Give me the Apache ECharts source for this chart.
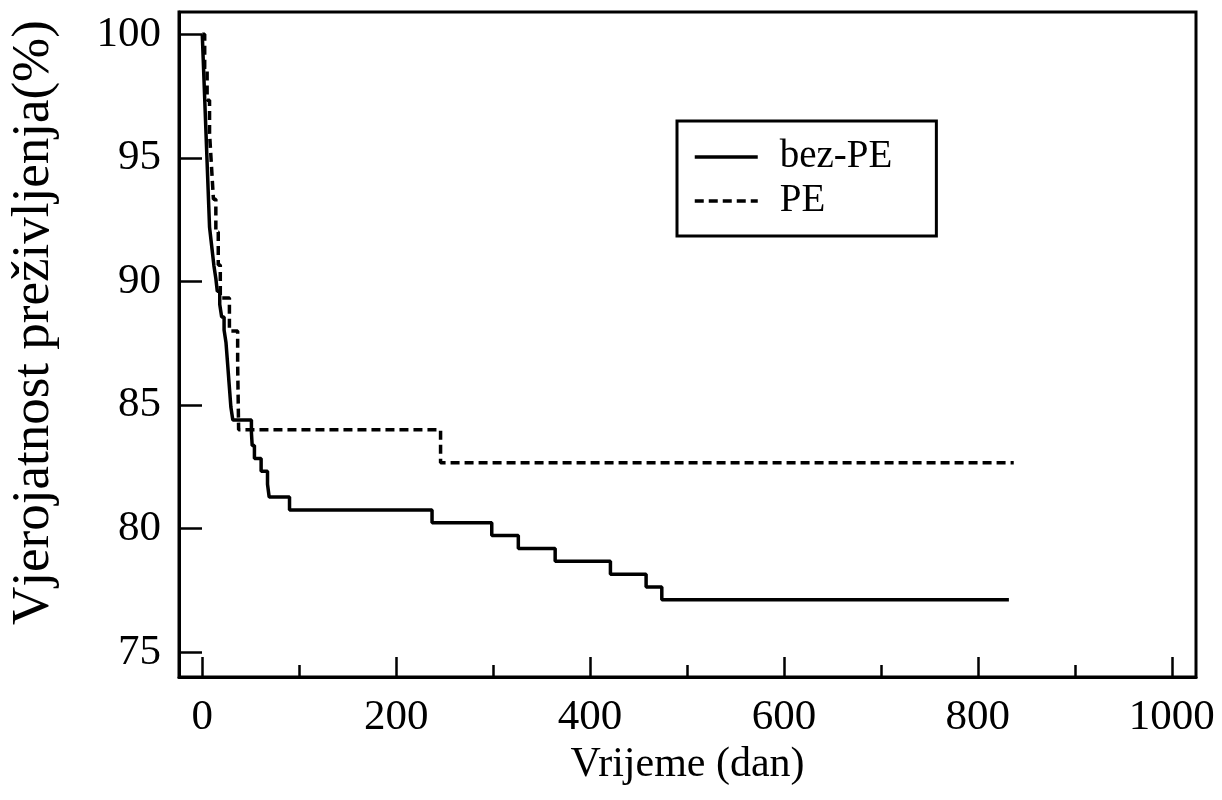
<!DOCTYPE html>
<html><head><meta charset="utf-8">
<script src="https://cdn.jsdelivr.net/npm/echarts@6/dist/echarts.min.js"></script>
<style>html,body{margin:0;padding:0;background:#fff}#c{width:1222px;height:800px}</style>
</head><body><div id="c"></div>
<script>
const bezPEDays = [0,0.5,1,1.5,2,2.5,3,3.5,4,4.5,5,5.5,6,6.5,7,7.5,9,10.5,12,14,15.5,18,20,22.5,24.5,25.5,26.5,27.5,28.5,29.5,31.5,50.7,51.5,53.8,60.7,67.3,69,90,237,298.6,326,364,421,457.8,474,832];
const bezPEValues = [100,99.48,98.96,98.44,97.92,97.40,96.88,96.36,95.84,95.32,94.80,94.28,93.76,93.24,92.72,92.20,91.68,91.16,90.64,90.12,89.60,89.08,88.56,88.04,87.52,87.00,86.48,85.96,85.44,84.92,84.40,83.88,83.36,82.84,82.32,81.80,81.28,80.76,80.24,79.72,79.20,78.68,78.16,77.64,77.12,77.12];
const peDays = [0,2.5,5,7.5,9.5,11.5,14,16.5,18.6,28,36.5,37,37.5,245.8,837];
const peValues = [100,98.67,97.33,96.0,94.67,93.33,92.0,90.67,89.33,88.0,86.67,85.33,84.0,82.67,82.67];
const xMajorTicks = [0,200,400,600,800,1000];
const xMinorTicks = [100,300,500,700,900];
const yTicks = [75,80,85,90,95,100];
const seriesNames = ['bez-PE','PE'];
const xTitle = 'Vrijeme (dan)';
const yTitle = 'Vjerojatnost preživljenja(%)';

const font = 'Liberation Serif';
const chart = echarts.init(document.getElementById('c'));
const tickStyle = {color:'#000', width:2.5};
chart.setOption({
  animation: false,
  backgroundColor: '#fff',
  grid: {left:179, right:26, top:12, bottom:123, show:true, borderColor:'#000', borderWidth:3, backgroundColor:'transparent'},
  legend: {
    left:677, top:121, orient:'vertical', padding:[16,44,15,16],
    itemWidth:63, itemHeight:14, itemGap:4,
    backgroundColor:'#fff', borderColor:'#000', borderWidth:3, borderRadius:0,
    itemStyle:{opacity:0},
    lineStyle:{width:3.5, color:'#000'},
    textStyle:{fontFamily:font, fontSize:39, color:'#000', lineHeight:40, padding:[0,0,0,17]},
    data: seriesNames
  },
  xAxis: [{
    type:'value', min:-24, max:1025,
    axisLine:{show:true, onZero:false, lineStyle:{color:'#000', width:3}},
    axisTick:{show:true, inside:true, length:20, lineStyle:tickStyle, customValues:xMajorTicks},
    axisLabel:{customValues:xMajorTicks, color:'#000', fontFamily:font, fontSize:43, margin:19, formatter:(v)=>String(v)},
    splitLine:{show:false},
    name:xTitle, nameLocation:'middle', nameGap:64,
    nameTextStyle:{fontFamily:font, fontSize:42, color:'#000'}
  },{
    type:'value', min:-24, max:1025, position:'bottom',
    axisLine:{show:false},
    axisTick:{show:true, inside:true, length:12, lineStyle:tickStyle, customValues:xMinorTicks},
    axisLabel:{show:false}, splitLine:{show:false}
  }],
  yAxis: {
    type:'value', min:74, max:100.9,
    axisLine:{show:true, onZero:false, lineStyle:{color:'#000', width:3}},
    axisTick:{show:true, inside:true, length:23, lineStyle:tickStyle, customValues:yTicks},
    axisLabel:{customValues:yTicks, color:'#000', fontFamily:font, fontSize:43, margin:18, formatter:(v)=>String(v)},
    splitLine:{show:false},
    name:yTitle, nameLocation:'middle', nameGap:118,
    nameTextStyle:{fontFamily:font, fontSize:53, color:'#000', padding:[0,0,0,44]}
  },
  series: [{
    type:'line', name:seriesNames[0], step:'end', symbol:'none', xAxisIndex:0,
    data: bezPEDays.map((d,i)=>[d,bezPEValues[i]]),
    lineStyle:{color:'#000', width:3.5, type:'solid'},
    itemStyle:{color:'#000'}
  },{
    type:'line', name:seriesNames[1], step:'end', symbol:'none', xAxisIndex:0,
    data: peDays.map((d,i)=>[d,peValues[i]]),
    lineStyle:{color:'#000', width:3.5, type:[9,5]},
    itemStyle:{color:'#000'}
  }]
});
</script></body></html>
